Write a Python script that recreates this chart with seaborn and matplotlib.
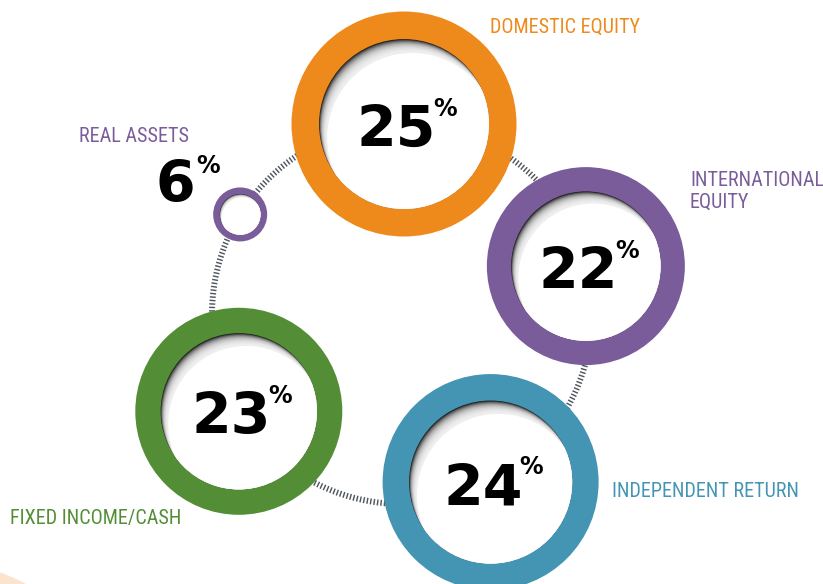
import numpy as np
import matplotlib.pyplot as plt
from matplotlib.patches import Circle
import seaborn as sns

# data
categories = ['DOMESTIC EQUITY', 'INTERNATIONAL\nEQUITY', 'INDEPENDENT RETURN',
              'FIXED INCOME/CASH', 'REAL ASSETS']
values = [25, 22, 24, 23, 6]
colors = ['#ee8a1b', '#7b5c9a', '#4495b4', '#538e37', '#7b5c9a']

# layout in pixel space (figure is 823x584)
angles = [89.4, 14.6, -62.2, -149.2, 148.4]     # position on the big ring
label_pos = [(490, 33, 'baseline'), (690, 171, 'top'), (612, 497, 'baseline'),
             (10, 524, 'baseline'), (79, 142, 'baseline')]
ring_center = (402, 314)
ring_radius = 190
px_per_pct = 4.5

sns.set_theme(style='white')
label_font = ['Roboto Condensed', 'Liberation Sans Narrow', 'DejaVu Sans']
num_font = ['DejaVu Sans']


def draw_ring(ax, cx, cy, r, color):
    r_in = r * 0.755
    ax.add_patch(Circle((cx, cy), r, color=color, lw=0, zorder=3))
    base = Circle((cx, cy), r_in, color='#1e1e1e', lw=0, zorder=4)
    ax.add_patch(base)
    # inner shadow: stack of white discs shifted towards bottom-right
    depth = max(r_in * 0.16, 3)
    n = 16
    for k in range(1, n + 1):
        d = depth * k / n
        c = Circle((cx + 0.5 * d, cy + 0.85 * d), r_in, color='white', lw=0,
                   alpha=0.16, zorder=5)
        ax.add_patch(c)
        c.set_clip_path(base)
    top = Circle((cx + 0.5 * depth * 1.2, cy + 0.85 * depth * 1.2), r_in,
                 color='white', lw=0, zorder=5)
    ax.add_patch(top)
    top.set_clip_path(base)


fig = plt.figure(figsize=(8.23, 5.84), dpi=100)
ax = fig.add_axes([0, 0, 1, 1])
ax.set_xlim(0, 823)
ax.set_ylim(584, 0)
ax.axis('off')

# peach blob in the corner
ax.add_patch(Circle((-70, 765), 205, color='#fce3cd', lw=0, zorder=0))

# hatched connecting ring
t = np.linspace(0, 2 * np.pi, 800)
ax.plot(ring_center[0] + ring_radius * np.cos(t), ring_center[1] + ring_radius * np.sin(t),
        color='#50565e', lw=4.3, linestyle=(0, (0.24, 0.34)), zorder=1)

for cat, val, col, ang, (lx, ly, lva) in zip(categories, values, colors, angles, label_pos):
    a = np.radians(ang)
    cx = ring_center[0] + ring_radius * np.cos(a)
    cy = ring_center[1] - ring_radius * np.sin(a)
    r = val * px_per_pct
    draw_ring(ax, cx, cy, r, col)

    if val >= 10:
        nx, ny, px, py = cx + 32, cy + 23, cx + 29, cy - 27
    else:
        nx, ny, px, py = cx - 45, cy - 12, cx - 44, cy - 60
    ax.text(nx, ny, str(val), ha='right', va='baseline', fontsize=41,
            fontweight='bold', family=num_font, color='black', zorder=8)
    ax.text(px, py, '%', ha='left', va='top', fontsize=17,
            fontweight='bold', family=num_font, color='black', zorder=8)

    ax.text(lx, ly, cat, ha='left', va=lva, fontsize=14.5, family=label_font,
            color=col, linespacing=1.2, zorder=8)

fig.savefig('out.png', dpi=100)
